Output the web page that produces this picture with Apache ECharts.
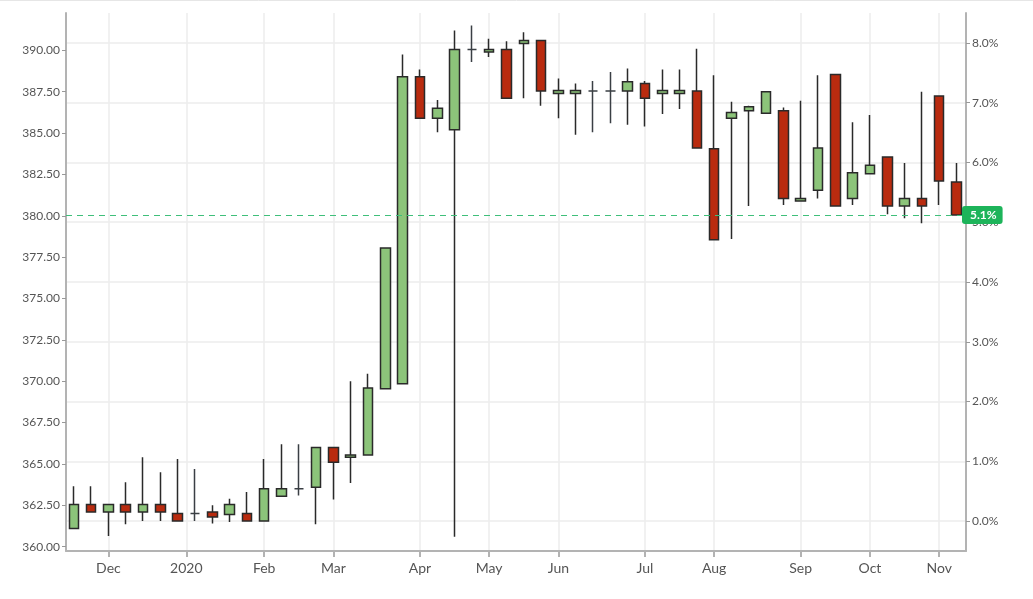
<!DOCTYPE html>
<html>
<head>
<meta charset="utf-8">
<script src="https://cdn.jsdelivr.net/npm/echarts@6/dist/echarts.min.js"></script>
<style>html,body{margin:0;padding:0;background:#fff}#c{width:1033px;height:599px}</style>
</head>
<body>
<div id="c"></div>
<script>
// Weekly candles (values read on the left axis scale)
const opens  = [361.1,362.55,362.1,362.55,362.1,362.55,362.0,362.0,362.1,361.95,362.0,361.55,363.05,363.5,363.6,366.0,365.4,365.55,369.55,369.85,388.4,385.9,385.2,390.05,389.9,390.05,390.42,390.6,387.4,387.4,387.55,387.55,387.55,388.0,387.4,387.4,387.55,384.05,385.9,386.35,386.2,386.35,380.9,381.55,388.55,381.05,382.55,383.55,380.6,381.05,387.25,382.05];
const closes = [362.55,362.1,362.55,362.1,362.55,362.1,361.55,362.0,361.8,362.55,361.55,363.5,363.5,363.5,366.0,365.1,365.55,369.6,378.05,388.4,385.9,386.5,390.05,390.05,390.05,387.1,390.6,387.55,387.58,387.58,387.55,387.55,388.1,387.1,387.58,387.58,384.1,378.55,386.25,386.6,387.5,381.05,381.05,384.1,380.6,382.6,383.05,380.6,381.05,380.6,382.1,380.05];
const lows   = [361.1,362.1,360.65,361.35,361.55,361.55,361.55,361.55,361.4,361.5,361.55,361.55,363.05,363.1,361.35,362.85,363.85,365.55,369.55,369.85,385.9,385.05,360.6,389.3,389.6,387.1,387.1,386.65,385.9,384.9,385.05,385.6,385.5,385.4,386.15,386.45,384.1,378.55,378.6,380.6,386.2,380.65,380.9,381.05,380.6,380.65,382.55,380.1,379.85,379.55,380.65,380.05];
const highs  = [363.65,363.65,362.55,363.9,365.4,364.5,365.3,364.7,362.5,362.9,363.3,365.3,366.2,366.2,366.0,366.0,370.0,370.45,378.05,389.75,388.85,387.0,391.2,391.5,390.7,390.55,391.1,390.6,388.3,388.0,388.15,388.7,388.9,388.15,388.85,388.85,390.1,388.5,386.9,386.65,387.5,386.55,386.95,388.5,388.55,385.65,386.1,383.55,383.2,387.5,387.25,383.2];

// Month labels placed at candle index positions
const monthPos    = [2, 6.5, 11, 15, 20, 24, 28, 33, 37, 42, 46, 50];
const monthLabels = ['Dec','2020','Feb','Mar','Apr','May','Jun','Jul','Aug','Sep','Oct','Nov'];

const leftTicks  = [360,362.5,365,367.5,370,372.5,375,377.5,380,382.5,385,387.5,390];
const rightTicks = [0,1,2,3,4,5,6,7,8];
const lastTag = '5.1%';

const candles = opens.map((o, i) => [i, o, closes[i], lows[i], highs[i]]);
const lastClose = closes[closes.length - 1];

const font = 'Lato, "Open Sans", sans-serif';
const lineGreen = '#3fbf7a';
const chart = echarts.init(document.getElementById('c'), null, {renderer: 'canvas'});
chart.setOption({
  animation: false,
  backgroundColor: '#fff',
  grid: {left: 66, right: 67, top: 13, bottom: 48, containLabel: false},
  xAxis: {
    type: 'value', min: -0.45, max: 51.55,
    axisLine: {show: true, onZero: false, lineStyle: {color: '#b3b3b3', width: 2}},
    axisTick: {show: true, customValues: monthPos, length: 6, lineStyle: {color: '#b3b3b3', width: 2}},
    axisLabel: {
      customValues: monthPos, color: '#555', fontSize: 14, fontFamily: font, margin: 10,
      formatter: v => { const k = monthPos.findIndex(p => Math.abs(p - v) < 1e-6); return k >= 0 ? monthLabels[k] : ''; }
    },
    splitLine: {show: true, lineStyle: {color: '#ececec', width: 1.5}}
  },
  yAxis: [
    {
      type: 'value', position: 'left', min: 359.74, max: 392.26,
      axisLine: {show: true, onZero: false, lineStyle: {color: '#b3b3b3', width: 2}},
      axisTick: {show: true, customValues: leftTicks, length: 4, lineStyle: {color: '#999'}},
      axisLabel: {customValues: leftTicks, color: '#555', fontSize: 12, fontFamily: font, margin: 6,
        formatter: v => v.toFixed(2)},
      splitLine: {show: false}
    },
    {
      type: 'value', position: 'right', min: -0.5, max: 8.5,
      axisLine: {show: true, onZero: false, lineStyle: {color: '#b3b3b3', width: 2}},
      axisTick: {show: true, customValues: rightTicks, length: 4, lineStyle: {color: '#999'}},
      axisLabel: {customValues: rightTicks, color: '#555', fontSize: 12, fontFamily: font, margin: 6,
        formatter: v => v.toFixed(1) + '%'},
      splitLine: {show: true, lineStyle: {color: '#ececec', width: 1.5}}
    }
  ],
  series: [{
    type: 'candlestick',
    yAxisIndex: 0,
    encode: {x: 0, y: [1, 2, 3, 4]},
    data: candles,
    barWidth: 10,
    itemStyle: {
      color: '#8cc47a', color0: '#b92b0f',
      borderColor: '#2a2a2a', borderColor0: '#2a2a2a', borderColorDoji: '#3a3f44',
      borderWidth: 1.5
    }
  }, {
    type: 'line',
    yAxisIndex: 0,
    data: [],
    color: lineGreen,
    markLine: {
      silent: true, symbol: 'none',
      lineStyle: {color: lineGreen, type: [6, 5], width: 1},
      label: {
        show: true, position: 'end', formatter: lastTag, distance: -4,
        color: '#fff', fontWeight: 'bold', fontSize: 12, fontFamily: font,
        backgroundColor: '#1db45a', padding: [3, 6, 3, 8], borderRadius: 3
      },
      data: [{yAxis: lastClose}]
    }
  }],
  graphic: [{type: 'line', shape: {x1: 0, y1: 0.5, x2: 1033, y2: 0.5}, style: {stroke: '#e6e6e6', lineWidth: 1}}]
});
</script>
</body>
</html>
